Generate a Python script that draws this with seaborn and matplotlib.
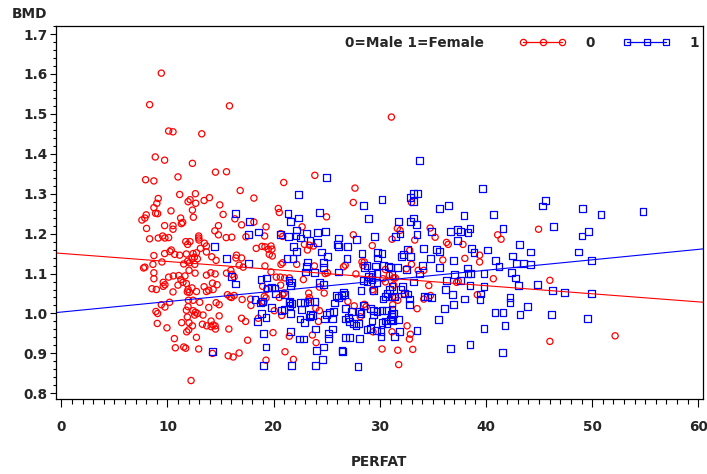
"""
BMD vs PERFAT scatter, split by sex, with a fitted line per group
"""

import matplotlib
matplotlib.use("Agg")
import matplotlib.pyplot as plt
from matplotlib.lines import Line2D
from matplotlib.ticker import MultipleLocator
import seaborn as sns

# 0 = Male (red circles)
male_perfat = [
    9.42, 8.32, 10.11, 10.52, 13.23, 8.85, 9.73, 12.35, 14.52, 7.94, 8.72, 10.99,
    9.13, 9.0, 8.72, 11.15, 12.63, 12.13, 11.94, 12.66, 13.45, 13.95, 14.93, 8.88,
    9.07, 10.33, 8.0, 7.87, 7.59, 12.35, 12.44, 11.24, 11.43, 11.31, 9.73, 10.52,
    10.52, 8.03, 14.8, 14.46,
    8.32, 9.13, 9.54, 9.76, 10.11, 11.72, 11.9, 12.12, 12.94, 12.94, 12.97, 13.48,
    13.67, 13.1, 14.8, 10.36, 10.23, 8.72, 9.73, 10.68, 11.15, 11.78, 12.41, 12.73,
    12.54, 12.31, 12.82, 13.67, 14.17, 14.58, 8.63, 9.48, 7.87, 7.75, 11.53, 11.9,
    12.07, 12.57, 12.03, 8.72, 8.72, 12.6, 10.11, 10.55, 11.06, 11.65, 13.67, 14.08,
    14.49, 11.27, 11.46, 11.78, 10.99, 9.6, 9.6, 9.76, 14.24, 14.67, 8.53, 8.95,
    10.52, 11.94, 12.07, 12.31, 12.73, 11.87, 13.45, 13.89, 13.67, 14.3, 11.97, 12.41,
    13.04, 10.2, 9.42, 9.76, 8.91, 9.07, 9.04, 9.95, 11.78, 11.94, 12.41, 12.63,
    12.82, 12.57, 11.87, 12.03, 11.34, 13.35, 13.89, 14.58, 13.29, 13.7, 14.11, 14.3,
    14.49, 14.52, 14.11, 11.81, 12.0, 12.35, 10.65, 10.74, 11.53, 11.72, 12.73, 12.94,
    14.24, 12.22,
    15.84, 15.56, 23.88, 20.95, 27.66, 16.85, 18.14, 27.5, 15.24, 20.44, 20.53, 24.98,
    16.35, 18.14, 16.98, 19.28, 22.68, 15.53, 16.06, 17.39, 19.15, 20.66, 20.85, 27.5,
    16.5, 16.44, 16.98, 18.36, 18.9, 19.18, 19.5, 19.75, 19.84, 19.59, 19.87, 19.18,
    20.85, 20.69, 22.9, 23.18, 23.37, 23.75, 22.17, 23.84, 24.85, 25.07, 26.58, 26.74,
    28.32, 28.54, 28.41, 27.75, 15.56, 15.97, 16.09, 16.28, 16.75, 17.13, 19.75, 20.25,
    20.63, 21.04, 18.96, 20.66, 22.8, 21.48, 19.34, 19.28, 19.02, 19.09, 20.53, 20.85,
    20.98, 19.12, 15.65, 15.88, 16.28, 16.03, 17.03, 17.83, 17.86, 14.87, 14.87, 18.55,
    20.06, 20.76, 23.3, 23.37, 23.27, 23.97, 24.31, 24.76, 24.31, 24.22, 23.65, 24.0,
    26.99, 27.59, 28.16, 28.54, 28.72, 21.48, 19.94, 17.55, 21.07, 21.86, 19.28, 15.72,
    16.19, 16.75, 15.78, 16.98, 17.36,
    31.09, 32.98, 31.65, 31.91, 34.74, 35.21, 41.1, 41.42, 31.15, 33.29,
    36.28, 36.44, 37.83, 29.29, 32.82, 39.4, 39.4, 35.93, 38.01, 32.98, 32.5, 30.52,
    33.61, 34.14, 30.9, 31.31, 31.47, 30.3, 30.52, 29.26, 37.23, 37.39, 40.69, 31.31,
    34.61, 29.32, 29.36, 31.47, 31.69, 32.3, 34.14, 34.77, 39.18, 31.21, 33.51, 32.57,
    29.36, 31.15, 32.88, 32.79, 30.21, 31.69, 33.1, 31.78,
    44.95, 46.02, 52.16, 46.02,
]
male_bmd = [
    1.602, 1.523, 1.457, 1.455, 1.45, 1.392, 1.384, 1.376, 1.354, 1.335, 1.332, 1.342,
    1.288, 1.276, 1.265, 1.298, 1.30, 1.285, 1.28, 1.276, 1.283, 1.29, 1.272, 1.251,
    1.25, 1.257, 1.247, 1.239, 1.234, 1.259, 1.241, 1.239, 1.228, 1.225, 1.22, 1.22,
    1.211, 1.213, 1.22, 1.207,
    1.187, 1.189, 1.194, 1.189, 1.19, 1.18, 1.173, 1.18, 1.194, 1.189, 1.184, 1.176,
    1.169, 1.163, 1.197, 1.159, 1.155, 1.145, 1.15, 1.148, 1.146, 1.149, 1.15, 1.152,
    1.141, 1.137, 1.137, 1.154, 1.142, 1.133, 1.123, 1.129, 1.116, 1.114, 1.124, 1.131,
    1.127, 1.123, 1.108, 1.102, 1.087, 1.101, 1.091, 1.094, 1.095, 1.094, 1.096, 1.102,
    1.099, 1.085, 1.078, 1.075, 1.071, 1.078, 1.068, 1.072, 1.076, 1.072, 1.062, 1.06,
    1.054, 1.06, 1.053, 1.064, 1.055, 1.054, 1.067, 1.058, 1.055, 1.06, 1.033, 1.033,
    1.028, 1.028, 1.022, 1.016, 1.005, 1.0, 0.975, 0.964, 1.008, 1.017, 1.007, 1.003,
    1.0, 0.996, 0.991, 0.977, 0.977, 0.996, 1.015, 1.027, 0.973, 0.969, 0.981, 0.971,
    0.969, 0.961, 0.967, 0.954, 0.959, 0.969, 0.937, 0.914, 0.916, 0.913, 0.94, 0.911,
    0.9, 0.832,
    1.52, 1.355, 1.346, 1.328, 1.314, 1.308, 1.289, 1.278, 1.248, 1.263, 1.253, 1.242,
    1.237, 1.229, 1.222, 1.217, 1.217, 1.19, 1.191, 1.192, 1.194, 1.2, 1.193, 1.197,
    1.146, 1.139, 1.139, 1.163, 1.168, 1.167, 1.161, 1.169, 1.161, 1.148, 1.144, 1.119,
    1.127, 1.123, 1.173, 1.159, 1.171, 1.169, 1.123, 1.119, 1.1, 1.102, 1.117, 1.121,
    1.129, 1.129, 1.12, 1.099, 1.101, 1.108, 1.098, 1.092, 1.121, 1.116, 1.104, 1.091,
    1.091, 1.089, 1.068, 1.071, 1.085, 1.089, 1.06, 1.039, 1.026, 1.03, 1.04, 1.047,
    1.051, 1.043, 1.047, 1.042, 1.045, 1.04, 1.035, 1.036, 1.02, 1.022, 0.994, 0.988,
    1.007, 0.995, 1.051, 1.04, 1.034, 1.013, 1.007, 1.051, 1.066, 0.98, 0.946, 0.927,
    1.03, 1.019, 0.992, 1.023, 1.017, 0.943, 0.952, 0.933, 0.904, 0.885, 0.883, 0.894,
    0.891, 0.901, 0.961, 0.988, 0.98,
    1.492, 1.278, 1.213, 1.208, 1.214, 1.191, 1.197, 1.186, 1.186, 1.184,
    1.178, 1.173, 1.173, 1.17, 1.158, 1.146, 1.129, 1.134, 1.138, 1.123, 1.112, 1.11,
    1.108, 1.108, 1.096, 1.089, 1.089, 1.087, 1.079, 1.092, 1.078, 1.081, 1.087, 1.071,
    1.07, 1.06, 1.055, 1.04, 1.033, 1.049, 1.036, 1.045, 1.047, 1.022, 1.012, 0.969,
    0.954, 0.954, 0.948, 0.936, 0.911, 0.908, 0.91, 0.872,
    1.211, 1.083, 0.944, 0.93,
]

# 1 = Female (blue squares)
female_perfat = [
    14.46, 14.24,
    24.95, 22.37, 28.5, 16.44, 21.35, 24.35, 28.91, 21.57, 22.37, 17.73, 18.58, 22.17,
    23.06, 24.16, 24.88, 17.6, 20.66, 21.38, 22.11, 22.55, 26.08, 27.78,
    15.53, 17.6, 21.26, 21.83, 21.89, 22.17, 23.43, 24.12, 24.47, 25.07, 23.21, 23.06,
    24.69, 24.69, 23.84, 26.11, 26.01, 26.11, 26.96, 26.9, 28.32, 28.56, 28.79, 28.91,
    16.06, 16.44, 18.8, 19.34, 21.45, 21.67, 21.61, 23.03, 19.44, 19.81, 20.13, 20.16,
    21.0, 18.24, 18.77, 18.93, 19.78, 18.87, 19.28, 18.49, 20.76, 20.98, 21.45, 21.54,
    21.61, 21.48, 21.73, 22.55, 22.9, 23.37, 23.84, 22.65, 22.49, 22.9, 23.5, 23.34,
    23.65, 24.35, 24.69, 25.01, 24.79, 25.26, 23.97, 24.0, 24.69, 24.57, 23.97, 25.16,
    25.16, 25.58, 25.7, 25.89, 26.11, 26.36, 26.65, 26.58, 26.74, 27.37, 28.09, 28.22,
    26.74, 27.05, 27.15, 27.53, 27.75, 28.0, 28.79, 26.74, 27.15, 28.09, 26.43, 26.52,
    27.94, 25.64, 25.54, 22.8, 22.43, 21.6, 19.28, 19.02, 21.7, 19.02,
    33.7, 39.66, 33.2, 33.57, 32.91, 33.2, 30.21, 35.62, 36.5, 37.92, 40.69, 33.2,
    32.88, 33.42, 31.78, 31.91, 34.87, 36.69, 37.29, 37.6, 38.3, 38.49, 41.6, 29.48,
    31.49, 33.51, 37.29,
    32.57, 32.25, 32.88, 32.03, 34.08, 35.34, 35.65, 38.62, 38.87, 40.13, 43.15, 42.49,
    42.9, 29.8, 30.21, 29.8, 34.77, 36.92, 40.91, 29.58, 30.36, 30.99, 31.63, 30.78,
    33.99, 35.62, 38.24, 33.76, 32.5, 31.15, 29.74, 29.26, 28.47, 28.79, 29.26, 29.74,
    37.07, 37.61, 38.3, 38.55, 39.81, 36.28, 41.23, 42.43, 42.8, 28.22, 29.39, 30.93,
    31.15, 32.1, 31.94, 33.2, 38.49, 39.81, 43.06, 30.68, 30.52, 30.3, 31.09, 31.4,
    32.35, 32.66, 32.82, 32.82, 34.24, 34.46, 34.87, 36.82, 36.19, 37.99, 39.43, 39.5,
    42.27, 42.27, 36.92, 28.47, 29.1, 29.42, 29.74, 30.21, 30.62, 31.15, 31.09, 36.09,
    35.5, 29.42, 29.26, 30.21, 30.52, 30.68, 30.99, 31.21, 31.78, 31.31, 31.15, 29.1,
    29.67, 30.11, 30.11, 31.4, 31.87, 33.51, 36.66, 38.49, 39.81, 41.79, 40.85, 41.6,
    43.21, 41.55,
    45.57, 45.35, 49.1, 50.84, 54.78, 46.33, 49.04, 49.64, 44.22, 48.72, 49.95, 43.53,
    44.16, 44.82, 46.24, 47.43, 49.96, 43.91, 46.14, 49.58,
]
female_bmd = [
    1.167, 0.905,
    1.34, 1.298, 1.271, 1.251, 1.251, 1.253, 1.238, 1.231, 1.239, 1.231, 1.204, 1.209,
    1.2, 1.203, 1.205, 1.197, 1.197, 1.193, 1.194, 1.189, 1.189, 1.186,
    1.138, 1.125, 1.138, 1.138, 1.167, 1.155, 1.182, 1.178, 1.154, 1.142, 1.129, 1.117,
    1.127, 1.116, 1.102, 1.104, 1.172, 1.167, 1.167, 1.138, 1.15, 1.116, 1.12, 1.093,
    1.093, 1.074, 1.085, 1.089, 1.083, 1.077, 1.071, 1.104, 1.064, 1.066, 1.064, 1.049,
    1.047, 1.034, 1.026, 1.03, 1.015, 1.0, 0.99, 0.98, 1.007, 1.009, 1.028, 1.02,
    1.0, 1.03, 1.024, 1.028, 1.027, 1.03, 1.03, 1.009, 0.986, 0.978, 0.998, 0.991,
    0.994, 1.078, 1.072, 0.998, 0.986, 1.003, 0.961, 0.908, 0.916, 0.885, 0.87, 0.95,
    0.937, 0.961, 1.026, 1.045, 1.039, 1.045, 1.047, 1.053, 1.013, 1.005, 1.005, 0.999,
    0.986, 0.99, 0.98, 0.975, 0.969, 0.975, 0.96, 0.939, 0.939, 0.937, 0.908, 0.905,
    0.868, 1.005, 0.986, 0.936, 0.936, 0.955, 0.916, 0.95, 0.87, 0.87,
    1.384, 1.314, 1.301, 1.301, 1.29, 1.281, 1.286, 1.263, 1.271, 1.245, 1.248, 1.239,
    1.231, 1.223, 1.231, 1.199, 1.205, 1.205, 1.21, 1.205, 1.203, 1.213, 1.213, 1.193,
    1.192, 1.197, 1.182,
    1.161, 1.148, 1.142, 1.142, 1.163, 1.161, 1.155, 1.163, 1.152, 1.159, 1.172, 1.144,
    1.126, 1.152, 1.15, 1.139, 1.138, 1.133, 1.133, 1.119, 1.121, 1.116, 1.116, 1.117,
    1.121, 1.116, 1.114, 1.099, 1.11, 1.098, 1.1, 1.098, 1.082, 1.081, 1.085, 1.078,
    1.098, 1.083, 1.1, 1.1, 1.1, 1.083, 1.117, 1.103, 1.089, 1.057, 1.057, 1.06,
    1.068, 1.068, 1.06, 1.079, 1.07, 1.068, 1.071, 1.051, 1.043, 1.036, 1.041, 1.043,
    1.051, 1.049, 1.036, 1.023, 1.043, 1.041, 1.04, 1.047, 1.06, 1.036, 1.034, 1.049,
    1.04, 1.028, 1.023, 1.02, 1.013, 1.007, 1.005, 1.007, 1.007, 1.009, 0.998, 1.012,
    0.985, 0.996, 0.981, 0.978, 0.981, 0.975, 0.984, 0.981, 0.984, 1.0, 0.992, 0.963,
    0.957, 0.954, 0.943, 0.943, 0.954, 0.958, 0.912, 0.922, 0.963, 0.969, 1.002, 1.003,
    0.998, 0.902,
    1.283, 1.269, 1.263, 1.248, 1.255, 1.217, 1.194, 1.205, 1.154, 1.154, 1.133, 1.125,
    1.123, 1.072, 1.057, 1.053, 1.05, 1.017, 0.997, 0.988,
]

x_ticks = [0, 10, 20, 30, 40, 50, 60]
y_ticks = [0.8, 0.9, 1.0, 1.1, 1.2, 1.3, 1.4, 1.5, 1.6, 1.7]
legend_title = "0=Male 1=Female"
group_labels = ["0", "1"]
group_colors = ["#ff0000", "#0000ff"]
group_markers = ["o", "s"]


def main():
    sns.set_style("white")
    plt.rcParams["font.family"] = ["DejaVu Sans"]
    plt.rcParams["font.weight"] = "bold"
    fs = 9.8

    fig = plt.figure(figsize=(7.07, 4.74), dpi=100)
    ax = fig.add_axes([0.0792, 0.1576, 0.9156, 0.7875])
    ax.set_xlim(-0.5, 60.47)
    ax.set_ylim(0.785, 1.72)

    groups = [(male_perfat, male_bmd), (female_perfat, female_bmd)]
    sizes = [20, 24]
    # scatter + straight-line fit per group, line runs over the whole x range
    for (xs, ys), col, mk, s in zip(groups, group_colors, group_markers, sizes):
        sns.regplot(x=xs, y=ys, ax=ax, ci=None, truncate=False, marker=mk,
                    color=col,
                    scatter_kws=dict(facecolors="none", edgecolors=col, s=s,
                                     linewidths=0.9, alpha=1),
                    line_kws=dict(color=col, lw=0.8))

    ax.set_xlim(-0.5, 60.47)
    ax.set_ylim(0.785, 1.72)
    ax.set_xlabel("")
    ax.set_ylabel("")

    # ticks
    ax.set_xticks(x_ticks)
    ax.set_yticks(y_ticks)
    ax.set_yticklabels([f"{v:.1f}" for v in y_ticks])
    ax.xaxis.set_minor_locator(MultipleLocator(1))
    ax.yaxis.set_minor_locator(MultipleLocator(0.02))
    ax.tick_params(axis="both", which="both", direction="out", color="black",
                   width=0.8, labelsize=fs)
    ax.tick_params(axis="x", which="major", length=6, pad=9, bottom=True)
    ax.tick_params(axis="x", which="minor", length=3.5, bottom=True)
    ax.tick_params(axis="y", which="major", length=4.5, pad=1.5, left=True)
    ax.tick_params(axis="y", which="minor", length=2.5, left=True)
    for sp in ax.spines.values():
        sp.set_visible(True)
        sp.set_color("black")
        sp.set_linewidth(0.9)

    fig.text(12 / 707, 1 - 14 / 474, "BMD", ha="left", va="center",
             fontsize=fs, fontweight="bold")
    fig.text(379 / 707, 1 - 462 / 474, "PERFAT", ha="center", va="center",
             fontsize=fs, fontweight="bold")

    # legend row inside the frame, top right
    handles = [Line2D([], [], color=c, marker=m, mfc="none", mec=c, ms=4.5,
                      lw=0.9, mew=0.9)
               for c, m in zip(group_colors, group_markers)]
    leg = ax.legend(handles, group_labels, ncol=2, numpoints=3, frameon=False,
                    fontsize=fs, handlelength=3.4, handletextpad=1.45,
                    columnspacing=2.1, borderpad=0, borderaxespad=0,
                    loc="center right",
                    bbox_to_anchor=(699 / 707, 1 - 43 / 474),
                    bbox_transform=fig.transFigure)
    for t in leg.get_texts():
        t.set_fontweight("bold")
    fig.text(345 / 707, 1 - 43 / 474, legend_title, ha="left", va="center",
             fontsize=fs, fontweight="bold")

    fig.savefig("out.png", dpi=100)
    plt.close(fig)


if __name__ == "__main__":
    main()
